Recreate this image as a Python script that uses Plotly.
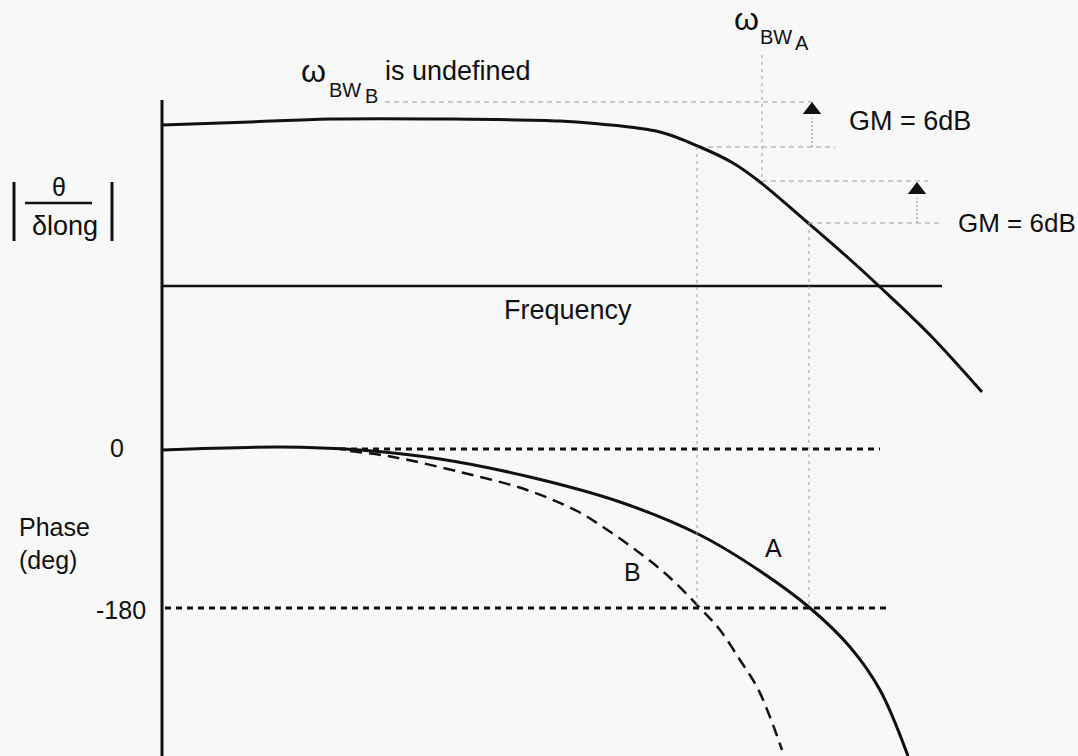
import plotly.graph_objects as go

# ---- data (schematic positions, frequency axis -> x, response -> y, drawn in a 1078x756 frame) ----
mag_freq = [162, 250, 330, 450, 560, 600, 660, 700, 733, 760, 807, 845, 880, 930, 982]
mag_val = [125, 122, 119, 119, 121, 124, 132, 147, 163, 182, 222, 255, 287, 335, 392]

phaseA_freq = [162, 280, 360, 440, 530, 620, 700, 760, 810, 850, 880, 908]
phaseA_val = [450, 447, 450, 459, 477, 502, 535, 571, 608, 647, 690, 756]

phaseB_freq = [350, 393, 460, 527, 577, 603, 633, 667, 700, 720, 740, 757, 770, 782]
phaseB_val = [451, 457, 472, 490, 511, 527, 548, 575, 608, 630, 660, 687, 717, 750]

zero_line = [449, 340, 880]      # y, x start, x end
m180_line = [608, 165, 890]

axis_x = 162
axis_y = [100, 756]
freq_axis = [286, 162, 942]

# guide lines: (x0, y0, x1, y1)
guides_h = [(385, 102, 815, 102), (708, 147, 835, 147), (762, 181, 928, 181), (808, 223, 940, 223)]
guides_v = [(762, 55, 762, 181), (697, 147, 697, 608), (809, 223, 809, 608)]
arrow_stems = [(812, 147, 812, 118), (917, 223, 917, 198)]
arrow_heads = [(812, 110), (917, 190)]

FONT = "Liberation Sans, Arial, sans-serif"
BLACK = "#111111"
GUIDE = "#9a9a9a"

fig = go.Figure()

def line(xs, ys, color=BLACK, width=3, dash="solid", shape="linear"):
    fig.add_trace(go.Scatter(x=xs, y=ys, mode="lines", line=dict(color=color, width=width, dash=dash, shape=shape),
                             hoverinfo="skip", showlegend=False))

# axes
line([axis_x, axis_x], axis_y, width=3)
line([freq_axis[1], freq_axis[2]], [freq_axis[0], freq_axis[0]], width=2.5)

# magnitude
line(mag_freq, mag_val, width=3, shape="spline")

# phase reference lines
line([zero_line[1], zero_line[2]], [zero_line[0], zero_line[0]], width=3, dash="6px,5px")
line([m180_line[1], m180_line[2]], [m180_line[0], m180_line[0]], width=3, dash="6px,5px")

# phase curves
line(phaseA_freq, phaseA_val, width=3, shape="spline")
line(phaseB_freq, phaseB_val, width=2.5, dash="12px,7px", shape="spline")

# guides
for x0, y0, x1, y1 in guides_h:
    line([x0, x1], [y0, y1], color=GUIDE, width=1, dash="5px,4px")
for x0, y0, x1, y1 in guides_v:
    line([x0, x1], [y0, y1], color=GUIDE, width=1, dash="3px,4px")
for x0, y0, x1, y1 in arrow_stems:
    line([x0, x1], [y0, y1], color=GUIDE, width=1.2, dash="2px,2px")
fig.add_trace(go.Scatter(x=[p[0] for p in arrow_heads], y=[p[1] for p in arrow_heads], mode="markers",
                         marker=dict(symbol="triangle-up", size=16, color=BLACK, line=dict(width=0)),
                         hoverinfo="skip", showlegend=False))

# y-label |theta/delta_long|
line([14, 14], [182, 241], width=3)
line([112, 112], [182, 241], width=3)
line([25, 92], [203, 203], width=2.5)

def txt(x, y, s, size=24, xanchor="center", yanchor="middle"):
    fig.add_annotation(x=x, y=y, text=s, showarrow=False, xanchor=xanchor, yanchor=yanchor,
                       font=dict(family=FONT, size=size, color=BLACK))

txt(59, 187, "θ", 25)
txt(65, 226, "δlong", 27)

txt(568, 310, "Frequency", 27)
txt(847, 121, "GM = 6dB", 27, xanchor="left")
txt(956, 223, "GM = 6dB", 26, xanchor="left")

txt(117, 448, "0", 25)
txt(148, 610, "-180", 25, xanchor="right")
txt(17, 527, "Phase", 25, xanchor="left")
txt(17, 560, "(deg)", 25, xanchor="left")
txt(773, 548, "A", 25)
txt(632, 572, "B", 25)

# omega labels
txt(313, 71, "ω", 32)
txt(345, 90, "BW", 20)
txt(371, 96, "B", 20)
txt(383, 71, "is undefined", 27, xanchor="left")

txt(746, 19, "ω", 32)
txt(776, 37, "BW", 20)
txt(802, 43, "A", 20)

fig.update_layout(
    width=1078, height=756,
    margin=dict(l=0, r=0, t=0, b=0),
    paper_bgcolor="#f8f8f8", plot_bgcolor="#f8f8f8",
    xaxis=dict(range=[0, 1078], visible=False, fixedrange=True),
    yaxis=dict(range=[756, 0], visible=False, fixedrange=True),
    showlegend=False,
)

fig.write_html("out.html")
